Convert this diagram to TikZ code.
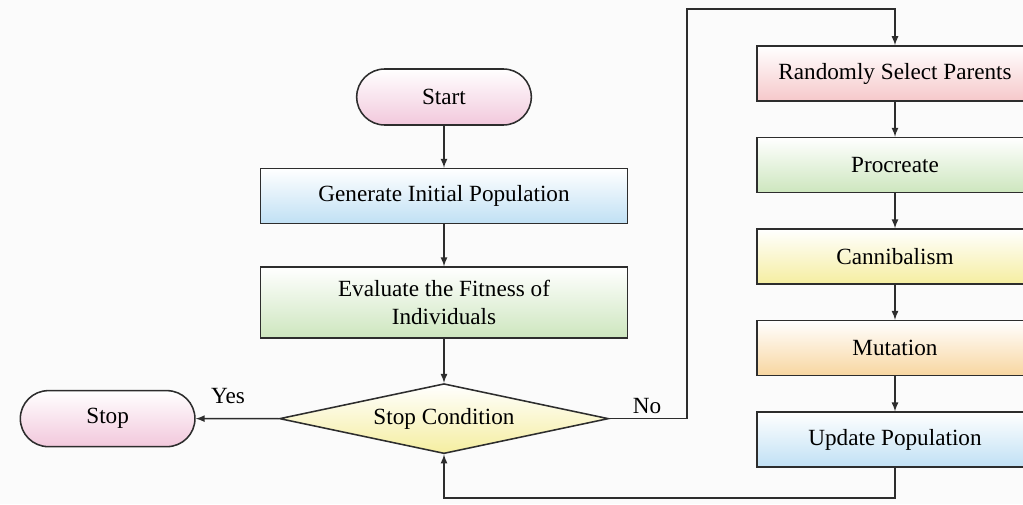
\documentclass[tikz,border=0pt]{standalone}
\usepackage{fontspec}
\setmainfont{Liberation Serif}
\newfontfamily\figfont{Liberation Serif}
\usetikzlibrary{positioning,arrows,shapes,calc}
\definecolor{bgcol}{RGB}{251,251,251}
\definecolor{edgecol}{RGB}{45,45,45}
\definecolor{pinkc}{RGB}{242,200,220}
\definecolor{bluec}{RGB}{192,224,244}
\definecolor{greenc}{RGB}{205,230,190}
\definecolor{yellowc}{RGB}{245,238,160}
\definecolor{redc}{RGB}{246,200,202}
\definecolor{orangec}{RGB}{248,214,160}
\tikzstyle{term} = [
rounded rectangle,
line width=1.1pt,
draw=edgecol,
minimum width=4.6cm,
minimum height=1.4cm,
top color=white,
bottom color=pinkc
]
\tikzstyle{proc} = [
rectangle,
line width=1.1pt,
draw=edgecol,
minimum width=9.175cm,
minimum height=1.375cm,
align=center,
top color=white
]
\tikzstyle{stepbox} = [
rectangle,
line width=1.1pt,
draw=edgecol,
minimum width=6.9cm,
minimum height=1.375cm,
top color=white
]
\tikzstyle{decide} = [
diamond,
aspect=4.6,
line width=1.1pt,
draw=edgecol,
minimum width=8.225cm,
minimum height=1.75cm,
inner sep=1pt,
top color=white,
bottom color=yellowc
]

\begin{document}
\begin{tikzpicture}[
	>=latex,
	font=\figfont\fontsize{16.5}{20}\selectfont,
	line width=1.2pt
	]
	\useasboundingbox[fill=bgcol] (0,0) rectangle (25.575,12.6);
	
	% main column
	\node[term] (start) at (11.1,10.175) {Start};
	\node[proc,bottom color=bluec,below=1.05cm of start] (init) {Generate Initial Population};
	\node[proc,bottom color=greenc,minimum height=1.775cm,below=1.05cm of init] (eval) {Evaluate the Fitness of\\Individuals};
	\node[decide,below=1.1cm of eval] (cond) {Stop Condition};
	\node[term,left=2.075cm of cond] (stop) {Stop};
	
	% loop column
	\node[stepbox,bottom color=redc] (rand) at (22.375,10.7625) {Randomly Select Parents};
	\node[stepbox,bottom color=greenc,below=0.875cm of rand] (proc) {Procreate};
	\node[stepbox,bottom color=yellowc,below=0.875cm of proc] (cann) {Cannibalism};
	\node[stepbox,bottom color=orangec,below=0.875cm of cann] (mut) {Mutation};
	\node[stepbox,bottom color=bluec,below=0.875cm of mut] (upd) {Update Population};
	
	\coordinate (noturn) at (17.175,12.375);
	\coordinate (back) at (22.375,0.15);
	
	\node (yes) at (5.7,2.7) {Yes};
	\node (no) at (16.175,2.45) {No};
	
	\draw[->,edgecol] (start) -- (init);
	\draw[->,edgecol] (init) -- (eval);
	\draw[->,edgecol] (eval) -- (cond);
	\draw[->,edgecol] (cond) -- (stop);
	\draw[->,edgecol] (cond.east) -| (noturn) -| (rand.north);
	\draw[->,edgecol] (rand) -- (proc);
	\draw[->,edgecol] (proc) -- (cann);
	\draw[->,edgecol] (cann) -- (mut);
	\draw[->,edgecol] (mut) -- (upd);
	\draw[->,edgecol] (upd.south) -- (back) -| (cond.south);
\end{tikzpicture}
\end{document}
